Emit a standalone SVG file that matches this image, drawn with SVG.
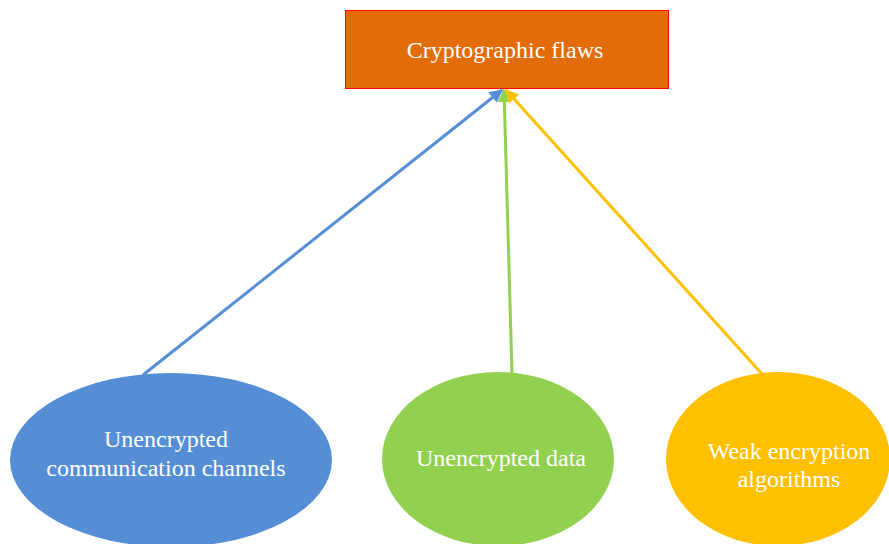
<svg xmlns="http://www.w3.org/2000/svg" width="889" height="544" viewBox="0 0 889 544">
<defs>
<style>
text{font-family:"Liberation Serif","Times New Roman",serif;font-size:24px;fill:#fff;text-anchor:middle}
.c{fill:none;stroke-width:3}
</style>
<marker id="mb" viewBox="0 0 10 10" refX="9" refY="5" markerWidth="4.5" markerHeight="4.5" orient="auto" markerUnits="strokeWidth"><path d="M0,0L10,5L0,10z" fill="#558ED5"/></marker>
<marker id="mg" viewBox="0 0 10 10" refX="9" refY="5" markerWidth="4.5" markerHeight="4.5" orient="auto" markerUnits="strokeWidth"><path d="M0,0L10,5L0,10z" fill="#92D050"/></marker>
<marker id="my" viewBox="0 0 10 10" refX="9" refY="5" markerWidth="4.5" markerHeight="4.5" orient="auto" markerUnits="strokeWidth"><path d="M0,0L10,5L0,10z" fill="#FFC000"/></marker>
</defs>
<rect width="889" height="544" fill="#fff"/>
<g id="connectors">
<line class="c" x1="143" y1="375" x2="502" y2="90" stroke="#558ED5" marker-end="url(#mb)"/>
<line class="c" x1="512" y1="374" x2="504" y2="90" stroke="#92D050" marker-end="url(#mg)"/>
<line class="c" x1="762" y1="374" x2="506" y2="90" stroke="#FFC000" marker-end="url(#my)"/>
</g>
<g id="top">
<rect x="345.5" y="10.5" width="323" height="78" fill="#E36C0A" stroke="#FF0000" stroke-width="1"/>
<text x="505" y="58">Cryptographic flaws</text>
</g>
<g id="blue">
<ellipse cx="171" cy="460" rx="161" ry="87" fill="#558ED5"/>
<text x="166" y="447">Unencrypted</text>
<text x="166" y="476">communication channels</text>
</g>
<g id="green">
<ellipse cx="498" cy="459" rx="116" ry="87" fill="#92D050"/>
<text x="501" y="466">Unencrypted data</text>
</g>
<g id="yellow">
<ellipse cx="778" cy="459" rx="112" ry="87" fill="#FFC000"/>
<text x="789" y="459">Weak encryption</text>
<text x="789" y="487">algorithms</text>
</g>
</svg>
